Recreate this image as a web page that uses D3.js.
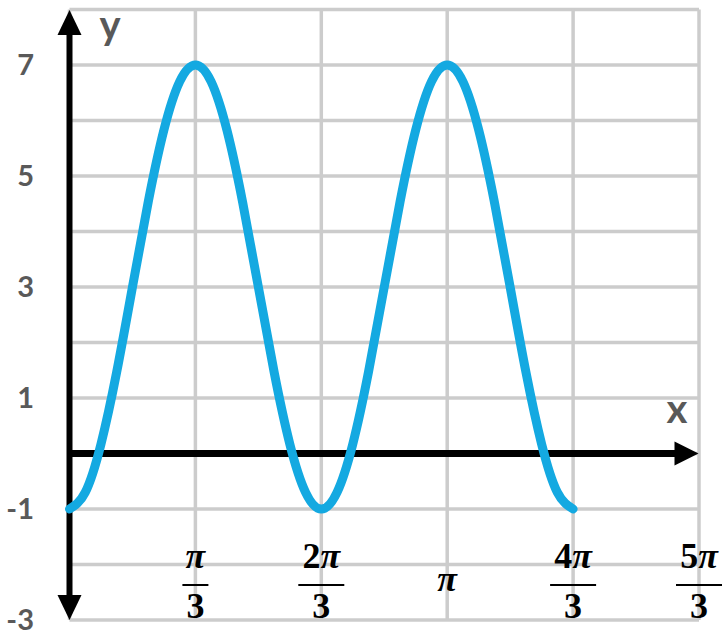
<!DOCTYPE html>
<html>
<head>
<meta charset="utf-8">
<script src="https://cdn.jsdelivr.net/npm/d3@7"></script>
<style>
  html, body { margin: 0; padding: 0; background: #ffffff; }
  svg { display: block; }
</style>
</head>
<body>
<svg id="chart" width="728" height="637"></svg>
<script>
// ---- data ----
// x positions in units of pi (step pi/24), from 0 to 4pi/3
const xMultiplesOfPi = [
  0, 1/24, 2/24, 3/24, 4/24, 5/24, 6/24, 7/24, 8/24,
  9/24, 10/24, 11/24, 12/24, 13/24, 14/24, 15/24, 16/24,
  17/24, 18/24, 19/24, 20/24, 21/24, 22/24, 23/24, 24/24,
  25/24, 26/24, 27/24, 28/24, 29/24, 30/24, 31/24, 32/24
];
const yValues = [
  -1, -0.7, 0.17, 1.47, 3, 4.53, 5.83, 6.7, 7,
  6.7, 5.83, 4.53, 3, 1.47, 0.17, -0.7, -1,
  -0.7, 0.17, 1.47, 3, 4.53, 5.83, 6.7, 7,
  6.7, 5.83, 4.53, 3, 1.47, 0.17, -0.7, -1
];
const yTickValues = [7, 5, 3, 1, -1, -3];
const yGridValues = [-3, -2, -1, 0, 1, 2, 3, 4, 5, 6, 7, 8];
const xGridMultiples = [0, 1, 2, 3, 4, 5];          // multiples of pi/3
const xTickLabels = [
  { k: 1, num: "", den: "3" },
  { k: 2, num: "2", den: "3" },
  { k: 3, num: "", den: "" },
  { k: 4, num: "4", den: "3" },
  { k: 5, num: "5", den: "3" }
];

// ---- scales ----
const PI = Math.PI;
const x = d3.scaleLinear().domain([0, 5 * PI / 3]).range([69.5, 699]);
const y = d3.scaleLinear().domain([-3, 8]).range([620, 9.5]);

const svg = d3.select("#chart");

// grid
const grid = svg.append("g").attr("stroke", "#cccccc").attr("stroke-width", 3.5);
grid.selectAll("line.h").data(yGridValues).enter().append("line")
  .attr("x1", x(0)).attr("x2", x(5 * PI / 3))
  .attr("y1", d => y(d)).attr("y2", d => y(d));
grid.selectAll("line.v").data(xGridMultiples).enter().append("line")
  .attr("x1", d => x(d * PI / 3)).attr("x2", d => x(d * PI / 3))
  .attr("y1", y(8)).attr("y2", y(-3));

// axes
const axisCol = "#000000";
const ax = svg.append("g");
const x0 = x(0), y0 = y(0);
const yTop = y(8) + 0.5, yBot = y(-3);
const xEnd = x(5 * PI / 3) - 0.5;
ax.append("line").attr("x1", x0).attr("x2", x0).attr("y1", yTop + 20).attr("y2", yBot - 20)
  .attr("stroke", axisCol).attr("stroke-width", 6);
ax.append("line").attr("x1", x0).attr("x2", xEnd - 20).attr("y1", y0).attr("y2", y0)
  .attr("stroke", axisCol).attr("stroke-width", 7);
// arrowheads
ax.append("path").attr("d", `M${x0},${yTop} L${x0 - 12},${yTop + 25} L${x0 + 12},${yTop + 25} Z`).attr("fill", axisCol);
ax.append("path").attr("d", `M${x0},${yBot} L${x0 - 12},${yBot - 25} L${x0 + 12},${yBot - 25} Z`).attr("fill", axisCol);
ax.append("path").attr("d", `M${xEnd},${y0} L${xEnd - 24},${y0 - 12} L${xEnd - 24},${y0 + 12} Z`).attr("fill", axisCol);

// curve
const pts = xMultiplesOfPi.map((m, i) => [m * PI, yValues[i]]);
const line = d3.line().x(d => x(d[0])).y(d => y(d[1])).curve(d3.curveNatural);
svg.append("path").datum(pts).attr("d", line)
  .attr("fill", "none").attr("stroke", "#14a9e1").attr("stroke-width", 9)
  .attr("stroke-linecap", "round").attr("stroke-linejoin", "round");

// y tick labels
svg.append("g").selectAll("text").data(yTickValues).enter().append("text")
  .attr("x", 34).attr("y", d => y(d)).attr("dy", "0.36em")
  .attr("text-anchor", "end")
  .attr("font-family", "Lato, 'Open Sans', sans-serif").attr("font-weight", "bold")
  .attr("font-size", 29).attr("fill", "#595959")
  .text(d => d);

// axis titles
svg.append("text").attr("x", 110).attr("y", 39).attr("text-anchor", "middle")
  .attr("font-family", "Lato, 'Open Sans', sans-serif").attr("font-weight", "bold")
  .attr("font-size", 40).attr("fill", "#595959").text("y");
svg.append("text").attr("x", 677).attr("y", 423).attr("text-anchor", "middle")
  .attr("font-family", "Lato, 'Open Sans', sans-serif").attr("font-weight", "bold")
  .attr("font-size", 40).attr("fill", "#595959").text("x");

// x tick labels (fractions of pi)
const serif = "'Liberation Serif', 'DejaVu Serif', serif";
const xl = svg.append("g").selectAll("g").data(xTickLabels).enter().append("g")
  .attr("transform", d => `translate(${x(d.k * PI / 3)},0)`);
xl.each(function(d) {
  const g = d3.select(this);
  if (d.den === "") {
    const t = g.append("text").attr("x", 0).attr("y", 591).attr("text-anchor", "middle")
      .attr("font-family", serif).attr("font-weight", "bold").attr("font-size", 36).attr("fill", "#000");
    t.append("tspan").attr("font-style", "italic").text("π");
    return;
  }
  const t = g.append("text").attr("x", 0).attr("y", 568).attr("text-anchor", "middle")
    .attr("font-family", serif).attr("font-weight", "bold").attr("font-size", 36).attr("fill", "#000");
  if (d.num) t.append("tspan").text(d.num);
  t.append("tspan").attr("font-style", "italic").text("π");
  const w = d.num ? 46 : 26;
  g.append("line").attr("x1", -w / 2).attr("x2", w / 2).attr("y1", 585).attr("y2", 585)
    .attr("stroke", "#000").attr("stroke-width", 2);
  g.append("text").attr("x", 0).attr("y", 618).attr("text-anchor", "middle")
    .attr("font-family", serif).attr("font-weight", "bold").attr("font-size", 36).attr("fill", "#000")
    .text(d.den);
});
</script>
</body>
</html>
